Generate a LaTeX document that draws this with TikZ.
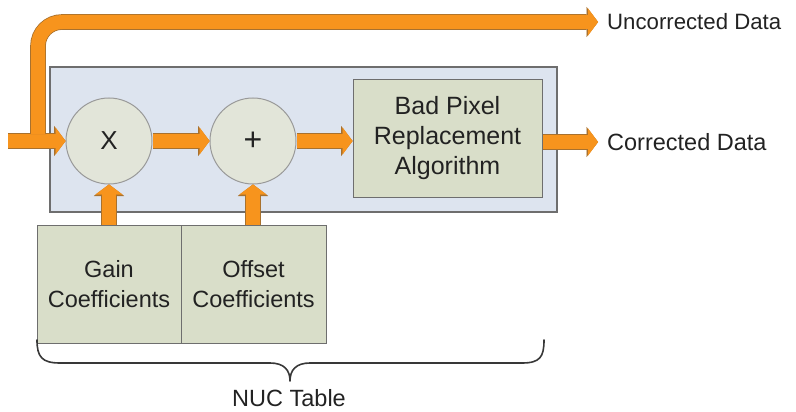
\documentclass[tikz,border=0pt]{standalone}
\usepackage{fontspec}
\setmainfont{Liberation Sans}
\usetikzlibrary{arrows.meta}
\definecolor{flow}{HTML}{F7941D}
\definecolor{flowedge}{HTML}{A8712E}
\definecolor{panelfill}{HTML}{DDE4EF}
\definecolor{boxfill}{HTML}{D9DEC9}
\definecolor{circfill}{HTML}{E2E5D9}
\definecolor{edgegray}{HTML}{6E6E6E}
\definecolor{txt}{HTML}{222222}
\begin{document}
\begin{tikzpicture}[x=1pt,y=-1pt,
  every node/.style={text=txt},
  flowarrow/.style={draw=flow, line width=14pt,
    -{Triangle[length=10pt,width=27pt,line width=0.1pt]},
    preaction={draw=flowedge, line width=15.6pt,
      -{Triangle[length=11.5pt,width=30pt,line width=0.1pt]}}},
  panelbox/.style={draw=edgegray, line width=1.1pt, fill=panelfill, inner sep=0pt},
  stagebox/.style={draw=edgegray, line width=1pt, fill=boxfill, align=center,
    inner sep=0pt, font=\fontsize{23.5}{30}\selectfont},
  opcircle/.style={circle, draw=gray!80, line width=1pt, fill=circfill,
    minimum size=86pt, inner sep=0pt, font=\fontsize{26}{30}\selectfont},
  outlabel/.style={anchor=west, inner xsep=9pt, inner ysep=0pt,
    font=\fontsize{23.5}{28}\selectfont},
  bracepath/.style={draw=txt!90, line width=1.6pt, line cap=round, line join=round}
]
\useasboundingbox (0,0) rectangle (796,412);

% panel
\node[panelbox, minimum width=507pt, minimum height=145pt] (panel) at (303.5,139.5) {};

% operators and stage
\node[opcircle] (mul) at (109,141) {X};
\node[opcircle, font=\fontsize{32}{34}\selectfont] (add) at (253,141) {+};
\node[stagebox, minimum width=189pt, minimum height=117pt,
      font=\fontsize{25}{30}\selectfont] (bpr) at (447.5,138.5)
      {Bad Pixel\\Replacement\\Algorithm};

% coefficient tables
\node[stagebox, minimum width=144pt, minimum height=118pt] (gain) at (109,284)
      {Gain\\Coefficients};
\node[stagebox, minimum width=145pt, minimum height=118pt] (offset) at (253.5,284)
      {Offset\\Coefficients};

% output labels
\node[outlabel, font=\fontsize{22.2}{26}\selectfont] (uc) at (598,22) {Uncorrected Data};
\node[outlabel] (cd) at (598,142) {Corrected Data};
\node[inner sep=0pt, font=\fontsize{23.5}{28}\selectfont] (nuc) at (289,398) {NUC Table};

% flows
\coordinate (in) at (8,141);
\coordinate (split) at (38,134);
\draw[flowarrow] (in) -- (mul.west);
\draw[flowarrow, rounded corners=24pt] (split) |- (uc.west);
\draw[flowarrow] (mul.east) -- (add.west);
\draw[flowarrow] (add.east) -- (bpr.west |- add.east);
\draw[flowarrow] (bpr.east |- cd.west) -- (cd.west);
\draw[flowarrow] (mul |- gain.north) -- (mul.south);
\draw[flowarrow] (add |- offset.north) -- (add.south);

% brace
\draw[bracepath] (37,340) .. controls (37,357) and (42,363) .. (60,363)
  -- (270,363) .. controls (284,363) and (290,370) .. (290,381)
  .. controls (290,370) and (296,363) .. (310,363)
  -- (522,363) .. controls (540,363) and (544,357) .. (544,340);
\end{tikzpicture}
\end{document}
